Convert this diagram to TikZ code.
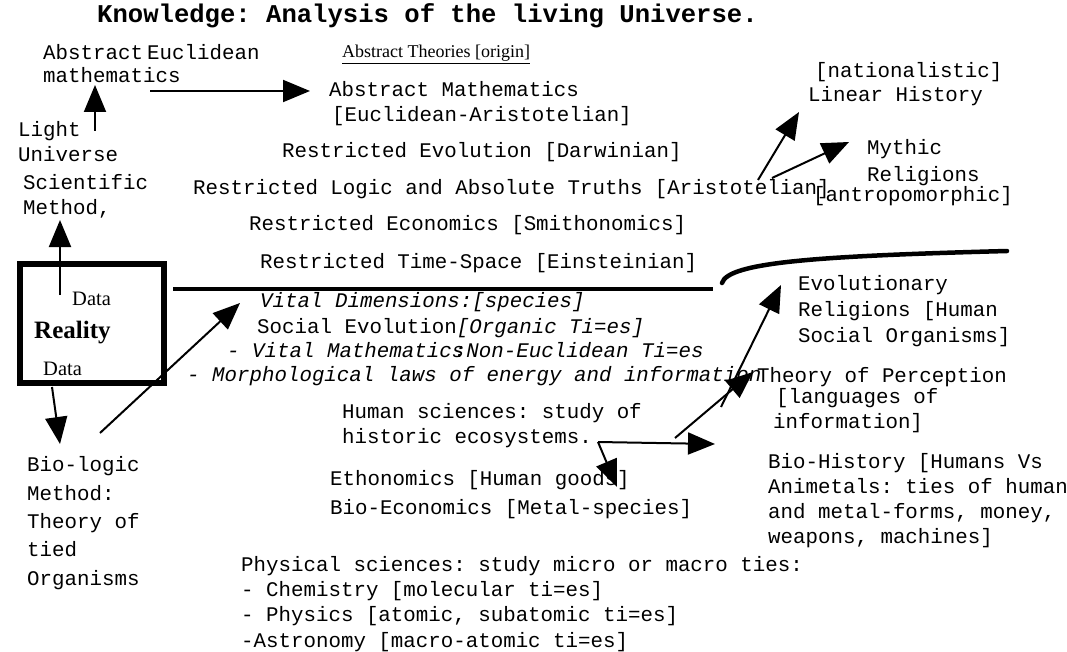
\documentclass[tikz,border=0pt]{standalone}
\usepackage{fontspec}
\setmainfont{Liberation Serif}
\setmonofont{Liberation Mono}
\usetikzlibrary{arrows.meta}

\tikzset{
  mono/.style={anchor=base west, inner sep=0pt, align=left,
    font=\ttfamily\fontsize{20.8}{25}\selectfont},
  monoit/.style={mono, font=\ttfamily\itshape\fontsize{20.8}{25}\selectfont},
  serif/.style={anchor=base west, inner sep=0pt, font=\fontsize{18}{21}\selectfont},
  link/.style={line width=2pt, -{Triangle[length=27pt,width=22pt]}},
  bar/.style={line width=4.5pt},
}

\begin{document}
\begin{tikzpicture}[x=1pt, y=-1pt]

	\useasboundingbox (0,0) rectangle (1067,652);
	\clip (0,0) rectangle (1067,652);

	% Reality box dimensions
	\def\boxw{144}
	\def\boxh{119}

	% Title
	\node[mono, font=\ttfamily\bfseries\fontsize{25.6}{30}\selectfont] (title) at (97,23) {Knowledge: Analysis of the living Universe.};

	% Abstract side
	\node[mono] (abstract) at (43,60) {Abstract};
	\node[mono] (euclid) at (147,60) {Euclidean};
	\node[mono] (mathem) at (43,83) {mathematics};
	\node[mono] (light) at (18,162) {Light\\Universe};
	\node[mono] (scimethod) at (23,215) {Scientific\\Method,};

	\node[serif] (theories) at (342,58) {\underline{Abstract Theories [origin]}};
	\node[mono] (absmath) at (329,97) {Abstract Mathematics};
	\node[mono] (euclarist) at (332,122) {[Euclidean-Aristotelian]};
	\node[mono] (evol) at (282,158) {Restricted Evolution [Darwinian]};
	\node[mono] (logic) at (193,195) {Restricted Logic and Absolute Truths [Aristotelian]};
	\node[mono] (econ) at (249,230) {Restricted Economics [Smithonomics]};
	\node[mono] (timesp) at (260,268) {Restricted Time-Space [Einsteinian]};

	% Mythic side
	\node[mono] (nation) at (815,78) {[nationalistic]};
	\node[mono] (linear) at (808,102) {Linear History};
	\node[mono] (mythic) at (867,155) {Mythic};
	\node[mono] (religions) at (867,182) {Religions};
	\node[mono] (antropo) at (813,202) {[antropomorphic]};

	% Reality
	\node[draw, line width=6pt, minimum width=\boxw pt, minimum height=\boxh pt, inner sep=0pt] (reality) at (92,323.5) {};
	\node[serif, font=\fontsize{20.5}{22}\selectfont] (dataup) at (72,305) {Data};
	\node[serif, font=\bfseries\fontsize{25}{27}\selectfont] (realtxt) at (34,338) {Reality};
	\node[serif, font=\fontsize{20.5}{22}\selectfont] (datadown) at (43,375) {Data};

	% Vital side
	\node[monoit] (vitaldim) at (260,307) {Vital Dimensions:[species]};
	\node[mono] (socevol) at (257,333) {Social Evolution\textit{[Organic Ti=es]}};
	\node[monoit] (vitalmath) at (227,357) {- Vital Mathematics\kern-.5em:Non-Euclidean Ti=es};
	\node[monoit] (morph) at (187,381) {- Morphological laws of energy and information};
	\node[mono] (human) at (342,443) {Human sciences: study of\\historic ecosystems.};
	\node[mono] (ethon) at (330,485) {Ethonomics [Human goods]};
	\node[mono] (bioecon) at (330,514) {Bio-Economics [Metal-species]};

	% Right side
	\node[mono, font=\ttfamily\fontsize{20.8}{26}\selectfont] (evolrel) at (798,342) {Evolutionary\\Religions [Human\\Social Organisms]};
	\node[mono] (percep) at (757,382) {Theory of Perception};
	\node[mono] (langs) at (776,403) {[languages of};
	\node[mono] (inform) at (773,428) {information]};
	\node[mono] (biohist) at (768,543) {Bio-History [Humans Vs\\Animetals: ties of humans\\and metal-forms, money,\\weapons, machines]};

	% Bottom
	\node[mono, font=\ttfamily\fontsize{20.8}{28.3}\selectfont] (biologic) at (27,585) {Bio-logic\\Method:\\Theory of\\tied\\Organisms};
	\node[mono, font=\ttfamily\fontsize{20.8}{25.3}\selectfont] (physical) at (241,647) {Physical sciences: study micro or macro ties:\\- Chemistry [molecular ti=es]\\- Physics [atomic, subatomic ti=es]\\-Astronomy [macro-atomic ti=es]};

	% Arrow ends
	\coordinate (mathem-out) at (150,91);
	\coordinate (absmath-in) at (310,91);
	\coordinate (light-out) at (95,131);
	\coordinate (mathem-in) at (95,85);
	\coordinate (data-out) at (60,295);
	\coordinate (method-in) at (60,220);
	\coordinate (reality-out) at (52,387);
	\coordinate (biologic-in) at (60,444);
	\coordinate (biologic-out) at (100,433);
	\coordinate (vitaldim-in) at (240,303);
	\coordinate (logic-out) at (758,180);
	\coordinate (linear-in) at (799,112);
	\coordinate (logic-out2) at (772,178);
	\coordinate (mythic-in) at (849,142);
	\coordinate (human-out) at (598,442);
	\coordinate (biohist-in) at (715,444);
	\coordinate (ethon-in) at (617,487);
	\coordinate (human-out2) at (675,438);
	\coordinate (percep-in) at (753,372);
	\coordinate (percep-out) at (721,407);
	\coordinate (evolrel-in) at (781,285);

	% Arrows
	\draw[link] (mathem-out) -- (absmath-in);
	\draw[link] (light-out) -- (mathem-in);
	\draw[link] (data-out) -- (method-in);
	\draw[link] (reality-out) -- (biologic-in);
	\draw[link] (biologic-out) -- (vitaldim-in);
	\draw[link] (logic-out) -- (linear-in);
	\draw[link] (logic-out2) -- (mythic-in);
	\draw[link] (human-out) -- (biohist-in);
	\draw[link] (human-out) -- (ethon-in);
	\draw[link] (human-out2) -- (percep-in);
	\draw[link] (percep-out) -- (evolrel-in);

	% Divide
	\coordinate (bar-left) at (173,289);
	\coordinate (bar-right) at (713,289);
	\coordinate (hook-start) at (722,283);
	\coordinate (hook-end) at (1007,251);
	\draw[bar] (bar-left) -- (bar-right);
	\draw[bar, line cap=round] (hook-start) .. controls (728,262) and (820,256) .. (hook-end);

\end{tikzpicture}
\end{document}
